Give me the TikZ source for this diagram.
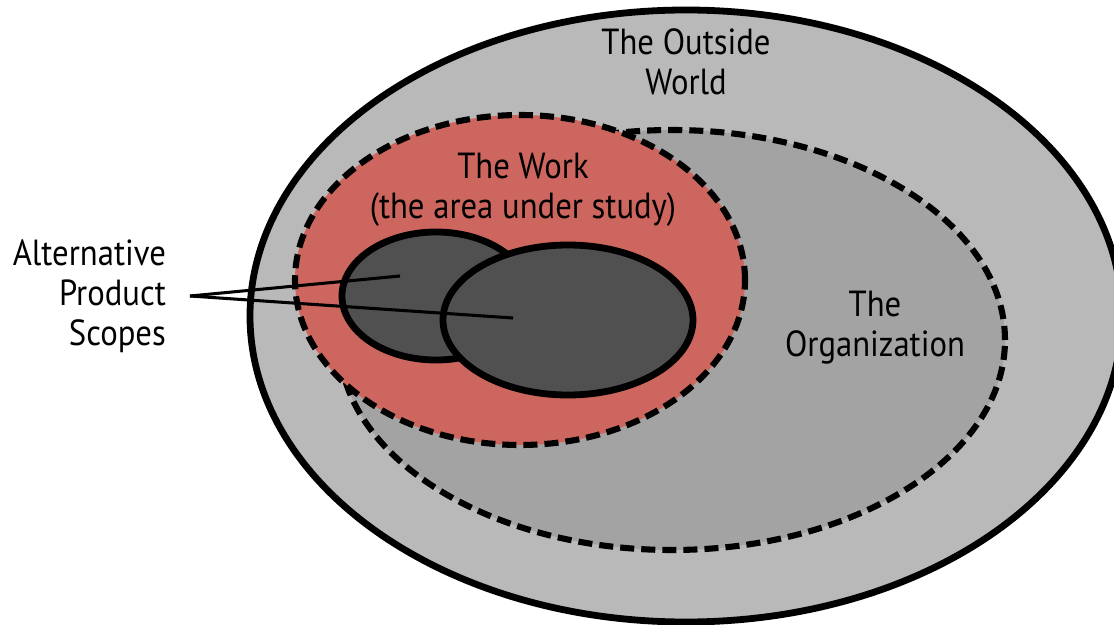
\documentclass[tikz,border=0pt]{standalone}
\usepackage{fontspec}
\setmainfont{PT Sans}[FakeStretch=0.9]
\usepackage{tikz}
\usetikzlibrary{shapes.geometric}

\definecolor{worldgray}{HTML}{B9B9B9}
\definecolor{orggray}{HTML}{A3A3A3}
\definecolor{workred}{HTML}{CD665E}
\definecolor{scopegray}{HTML}{505050}

\begin{document}
\begin{tikzpicture}[
    region/.style={
        ellipse,draw,inner sep=0pt,
        line width=5.8pt
    },
    dashedregion/.style={
        region,
        line width=5.2pt,
        dash pattern=on 12pt off 6pt
    },
    label/.style={
        align=center,
        font=\fontsize{31}{34}\selectfont
    },
    pointer/.style={line width=2.6pt}
]
\useasboundingbox (0,0) rectangle (33.42,18.72);
\clip (0,0) rectangle (33.42,18.72);

\node[region, fill=worldgray, minimum width=26.16cm, minimum height=18.36cm] (world) at (20.58,9.24) {};
\node[dashedregion, fill=orggray, minimum width=19.98cm, minimum height=12.6cm] (org) at (20.16,8.52) {};
\node[dashedregion, fill=workred, minimum width=13.5cm, minimum height=9.9cm] (work) at (15.6,10.32) {};
\node[region, fill=scopegray, minimum width=5.64cm, minimum height=3.84cm] (scopea) at (13.08,9.84) {};
\node[region, fill=scopegray, minimum width=7.5cm, minimum height=4.5cm] (scopeb) at (17.04,9.12) {};

\node[label] (worldlabel) at (20.58,16.86) {The Outside\\World};
\node[label] (worklabel) at (15.69,13.02) {The Work\\(the area under study)};
\node[label] (orglabel) at (26.25,8.88) {The\\Organization};
\node[label, align=right, anchor=east] (altlabel) at (5.1,9.84) {Alternative\\Product\\Scopes};

\coordinate (fork) at (5.7,9.84);
\coordinate (scopeapt) at (12.0,10.44);
\coordinate (scopebpt) at (15.39,9.18);

\draw[pointer] (fork) -- (scopeapt);
\draw[pointer] (fork) -- (scopebpt);
\end{tikzpicture}
\end{document}
